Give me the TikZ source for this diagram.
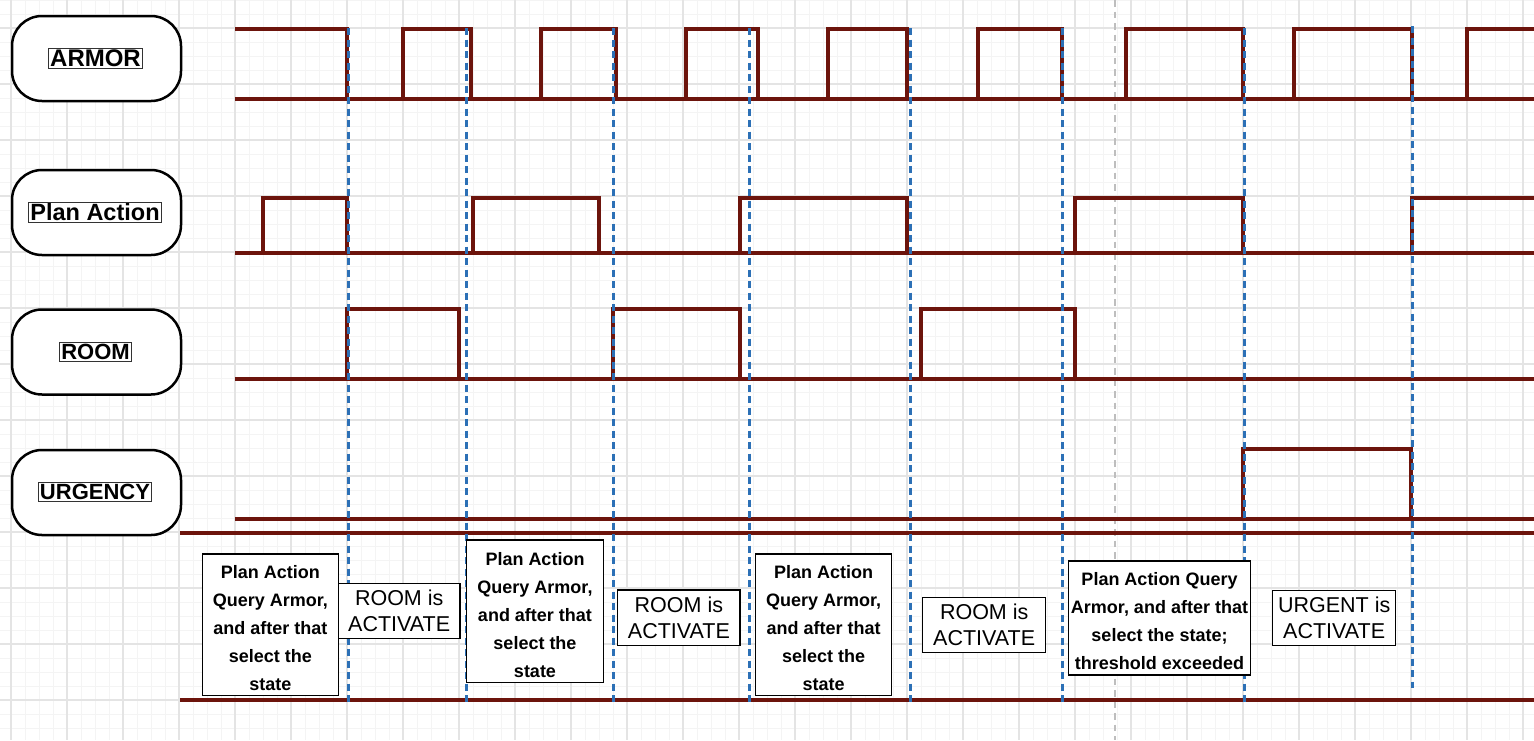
\documentclass[tikz,border=0pt]{standalone}
\usepackage{fontspec}
\setmainfont{Liberation Sans}
\definecolor{wave}{RGB}{108,20,12}
\definecolor{markc}{RGB}{44,112,182}
\definecolor{gmaj}{RGB}{228,228,228}
\definecolor{gmin}{RGB}{244,244,244}
\definecolor{gdash}{RGB}{190,190,190}
\tikzset{
  wavel/.style={draw=wave, line width=4pt, line join=miter},
  marker/.style={draw=markc, line width=3pt, dash pattern=on 7pt off 4.5pt},
  guide/.style={draw=gdash, line width=1.8pt, dash pattern=on 6.5pt off 5pt},
  gridmin/.style={draw=gmin, line width=1pt},
  gridmaj/.style={draw=gmaj, line width=1.5pt},
  sig/.style={draw=black, line width=2.5pt, fill=white, rounded corners=30pt, minimum width=169pt, minimum height=85pt},
  sigtext/.style={draw=black!80, line width=0.8pt, inner sep=1.5pt, font=\bfseries},
  notebox/.style={draw=black, line width=1.2pt, fill=white, inner sep=0pt},
  notetext/.style={align=center, inner sep=0pt, yshift=-3.5pt, font=\bfseries\fontsize{18}{28}\selectfont},
  statebox/.style={draw=black, line width=1.2pt, fill=white, align=center, inner sep=0pt, font=\fontsize{21.5}{26}\selectfont},
}
\begin{document}
\begin{tikzpicture}[x=1pt,y=-1pt]
\useasboundingbox (0,0) rectangle (1534,740);
\clip (0,0) rectangle (1534,740);
\fill[white] (0,0) rectangle (1534,740);
% grid
\foreach \x in {-3,11,...,1537} \draw[gridmin] (\x,0) -- (\x,740);
\foreach \y in {0,14,...,742} \draw[gridmin] (0,\y) -- (1534,\y);
\foreach \x in {11,67,...,1530} \draw[gridmaj] (\x,0) -- (\x,740);
\foreach \y in {28,84,...,740} \draw[gridmaj] (0,\y) -- (1534,\y);
% grey guide
\coordinate (g1) at (1115,0);
\coordinate (g2) at (1115,740);
\draw[guide] (g1) -- (g2);
% ARMOR
\draw[wavel] (235,99) -- (1540,99);
\draw[wavel] (235,29) -- (347,29) -- (347,99);
\foreach \a/\b in {403/470.7,540.7/616,686/757.5,827.7/907,977.7/1061.7,1126/1243.3,1294/1411.7}
  \draw[wavel] (\a,99) |- (\b,29) -- (\b,99);
\draw[wavel] (1466.7,99) |- (1540,29);
% Plan Action
\draw[wavel] (235,253.3) -- (1540,253.3);
\foreach \a/\b in {263/347,473.3/599.3,740/907,1075/1243.3}
  \draw[wavel] (\a,253.3) |- (\b,197.5) -- (\b,253.3);
\draw[wavel] (1411.7,253.3) |- (1540,197.5);
% ROOM
\draw[wavel] (235,379.3) -- (1540,379.3);
\foreach \a/\b in {347/459.3,613.3/739.5,921/1075}
  \draw[wavel] (\a,379.3) |- (\b,309.3) -- (\b,379.3);
% URGENCY
\draw[wavel] (235,519.3) -- (1540,519.3);
\draw[wavel] (1243.3,519.3) |- (1411,449.3) -- (1411,519.3);
% separators
\draw[wavel] (180,533.3) -- (1540,533.3);
\draw[wavel] (180,700) -- (1540,700);
% blue markers
\foreach \x in {348,466,613,749,910,1062,1244}
  \draw[marker] (\x,28) -- (\x,702);
\draw[marker] (1412,26) -- (1412,688);
% signal labels
\node[sig] (armor) at (96.5,58.5) {};
\node[sigtext, font=\bfseries\fontsize{24}{28}\selectfont] (armorT) at (95.5,58.5) {ARMOR};
\node[sig] (plan) at (96.5,212.5) {};
\node[sigtext, font=\bfseries\fontsize{23.5}{28}\selectfont] (planT) at (95,212.5) {Plan Action};
\node[sig] (room) at (96.5,352) {};
\node[sigtext, font=\bfseries\fontsize{22}{26}\selectfont] (roomT) at (95.5,352) {ROOM};
\node[sig] (urg) at (96.5,492.5) {};
\node[sigtext, font=\bfseries\fontsize{22}{26}\selectfont] (urgT) at (95,492) {URGENCY};
% notes
\node[notebox, minimum width=136pt, minimum height=141.7pt] (n1) at (270.3,624.9) {};
\node[notetext] (n1t) at (n1.center) {Plan Action\\Query Armor,\\and after that\\select the\\state};
\node[statebox, minimum width=121.7pt, minimum height=55pt] (s1) at (399.2,610.8) {ROOM is\\ACTIVATE};
\node[notebox, minimum width=136.6pt, minimum height=142.3pt] (n2) at (535,611.2) {};
\node[notetext] (n2t) at (n2.center) {Plan Action\\Query Armor,\\and after that\\select the\\state};
\node[statebox, minimum width=122.3pt, minimum height=55.7pt] (s2) at (678.9,617.9) {ROOM is\\ACTIVATE};
\node[notebox, minimum width=136pt, minimum height=141.7pt] (n3) at (823.7,624.9) {};
\node[notetext] (n3t) at (n3.center) {Plan Action\\Query Armor,\\and after that\\select the\\state};
\node[statebox, minimum width=123pt, minimum height=55pt] (s3) at (984.2,625.2) {ROOM is\\ACTIVATE};
\node[notebox, minimum width=182.4pt, minimum height=114pt] (n4) at (1159.5,618) {};
\node[notetext] (n4t) at (n4.center) {Plan Action Query\\Armor, and after that\\select the state;\\threshold exceeded};
\node[statebox, minimum width=123pt, minimum height=55pt] (s4) at (1334.2,618.2) {URGENT is\\ACTIVATE};
\end{tikzpicture}
\end{document}
